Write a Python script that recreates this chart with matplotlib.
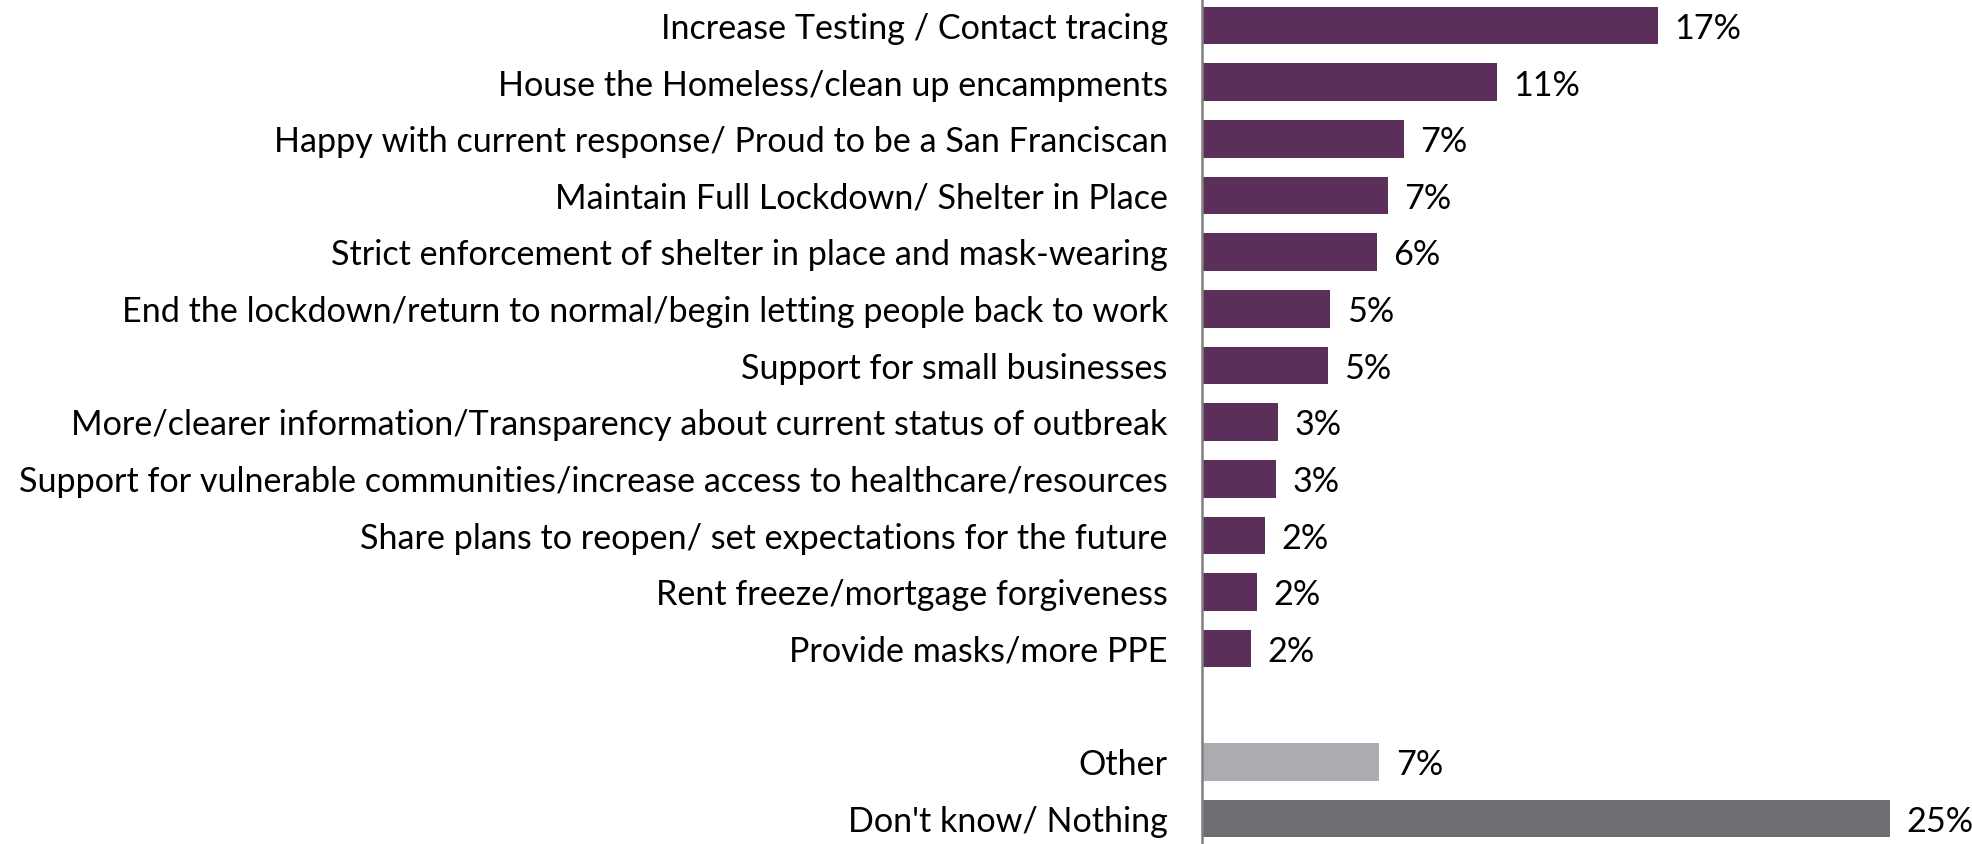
import matplotlib.pyplot as plt
import numpy as np

# categories top to bottom (None = empty gap row)
categories = [
    "Increase Testing / Contact tracing",
    "House the Homeless/clean up encampments",
    "Happy with current response/ Proud to be a San Franciscan",
    "Maintain Full Lockdown/ Shelter in Place",
    "Strict enforcement of shelter in place and mask-wearing",
    "End the lockdown/return to normal/begin letting people back to work",
    "Support for small businesses",
    "More/clearer information/Transparency about current status of outbreak",
    "Support for vulnerable communities/increase access to healthcare/resources",
    "Share plans to reopen/ set expectations for the future",
    "Rent freeze/mortgage forgiveness",
    "Provide masks/more PPE",
    None,
    "Other",
    "Don't know/ Nothing",
]
values = [16.7, 10.8, 7.4, 6.8, 6.4, 4.7, 4.6, 2.8, 2.7, 2.3, 2.0, 1.8, None, 6.5, 25.2]
value_labels = ["17%", "11%", "7%", "7%", "6%", "5%", "5%", "3%", "3%", "2%", "2%", "2%", None, "7%", "25%"]

purple = "#5C2F5B"
light_gray = "#ABACAF"
dark_gray = "#6D6E71"
colors = [purple] * 12 + [None, light_gray, dark_gray]

plt.rcParams['font.family'] = ['Lato', 'DejaVu Sans']

fig = plt.figure(figsize=(19.72, 8.45), dpi=100)
ax = fig.add_axes([0.6095, 0.0, 0.3905, 1.0])

for i, (cat, v, lab, c) in enumerate(zip(categories, values, value_labels, colors)):
    if v is None:
        continue
    ax.barh(i, v, height=0.665, color=c)
    ax.text(v + 0.6, i + 0.04, lab, va="center", ha="left", fontsize=24.6, color="black", clip_on=False)
    ax.text(-1.25, i + 0.04, cat, va="center", ha="right", fontsize=24.6, color="black", clip_on=False)

ax.set_xlim(0, 28.2)
ax.set_ylim(14.45, -0.47)
ax.set_xticks([])
ax.set_yticks([])
for s in ["top", "right", "bottom"]:
    ax.spines[s].set_visible(False)
ax.spines["left"].set_color("#808080")
ax.spines["left"].set_linewidth(1.8)

fig.savefig("out.png", dpi=100)
